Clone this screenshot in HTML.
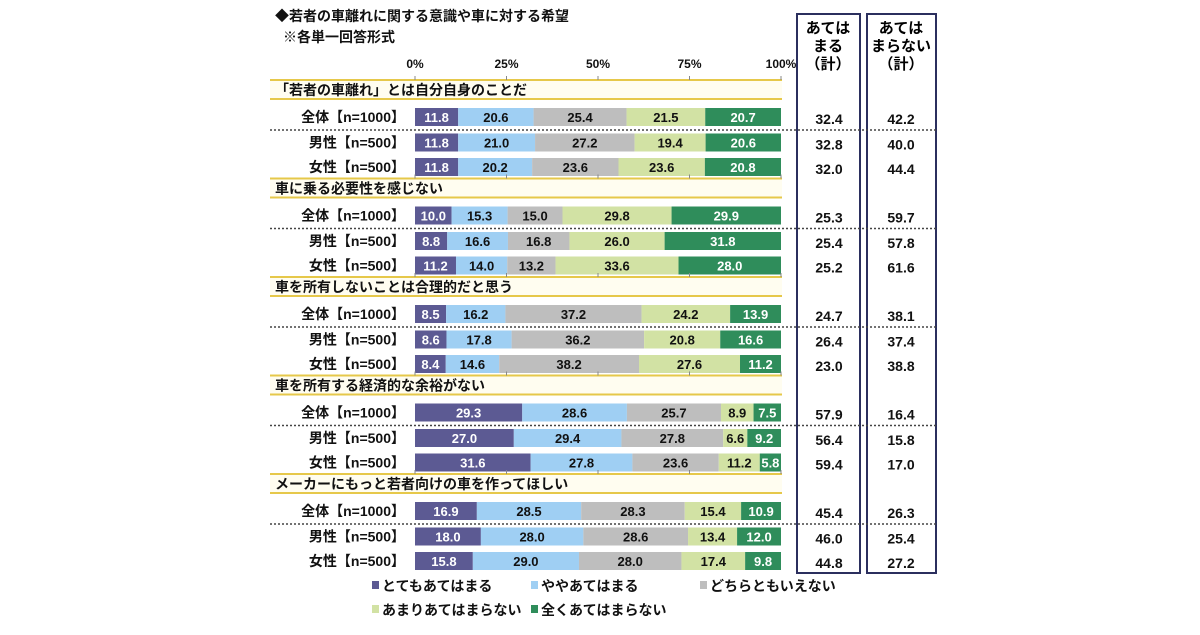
<!DOCTYPE html>
<html><head><meta charset="utf-8"><style>
body{margin:0;background:#fff;font-family:"Liberation Sans","Noto Sans CJK JP",sans-serif;}
svg text{font-family:"Liberation Sans","Noto Sans CJK JP",sans-serif;font-weight:bold;}
</style></head><body>
<svg id="c" width="1200" height="630">
<text x="275" y="21" font-size="14" fill="#111">◆若者の車離れに関する意識や車に対する希望</text>
<text x="283" y="42" font-size="14" fill="#111">※各単一回答形式</text>
<rect x="797" y="14" width="63" height="559" fill="none" stroke="#2b2f5e" stroke-width="2"/>
<rect x="867" y="14" width="69" height="559" fill="none" stroke="#2b2f5e" stroke-width="2"/>
<text x="828" y="33" font-size="15" text-anchor="middle"><tspan x="828">あては</tspan><tspan x="828" dy="18">まる</tspan><tspan x="828" dy="18">（計）</tspan></text>
<text x="901" y="33" font-size="15" text-anchor="middle"><tspan x="901">あては</tspan><tspan x="901" dy="18">まらない</tspan><tspan x="901" dy="18">（計）</tspan></text>
</svg>
<script>
const questions=["「若者の車離れ」とは自分自身のことだ","車に乗る必要性を感じない","車を所有しないことは合理的だと思う","車を所有する経済的な余裕がない","メーカーにもっと若者向けの車を作ってほしい"];
const rowLabels=["全体【n=1000】","男性【n=500】","女性【n=500】"];
const seriesNames=["とてもあてはまる","ややあてはまる","どちらともいえない","あまりあてはまらない","全くあてはまらない"];
const v1=[[11.8,20.6,25.4,21.5,20.7],[11.8,21.0,27.2,19.4,20.6],[11.8,20.2,23.6,23.6,20.8]];
const v2=[[10.0,15.3,15.0,29.8,29.9],[8.8,16.6,16.8,26.0,31.8],[11.2,14.0,13.2,33.6,28.0]];
const v3=[[8.5,16.2,37.2,24.2,13.9],[8.6,17.8,36.2,20.8,16.6],[8.4,14.6,38.2,27.6,11.2]];
const v4=[[29.3,28.6,25.7,8.9,7.5],[27.0,29.4,27.8,6.6,9.2],[31.6,27.8,23.6,11.2,5.8]];
const v5=[[16.9,28.5,28.3,15.4,10.9],[18.0,28.0,28.6,13.4,12.0],[15.8,29.0,28.0,17.4,9.8]];
const agreeTotals=[[32.4,32.8,32.0],[25.3,25.4,25.2],[24.7,26.4,23.0],[57.9,56.4,59.4],[45.4,46.0,44.8]];
const disagreeTotals=[[42.2,40.0,44.4],[59.7,57.8,61.6],[38.1,37.4,38.8],[16.4,15.8,17.0],[26.3,25.4,27.2]];
const ticks=[0,25,50,75,100];
const values=[v1,v2,v3,v4,v5];
const colors=["#5c5a93","#9fcff3","#bebebe","#d2e2a4","#2f8d5b"];
const textColors=["#fff","#111","#111","#111","#fff"];
const svg=document.getElementById('c');const NS="http://www.w3.org/2000/svg";
function mk(t,a,txt){const e=document.createElementNS(NS,t);for(const k in a)e.setAttribute(k,a[k]);if(txt!==undefined)e.textContent=txt;svg.appendChild(e);return e;}
const x0=415,x1=781;const xs=p=>x0+(x1-x0)*p/100;
ticks.forEach(t=>{const e=mk('text',{x:xs(t),y:68,'font-size':12,'text-anchor':'middle',fill:'#111'},t+'%');

});
questions.forEach((q,g)=>{
 const hy=80+g*98.5;
 const band=mk('rect',{x:270,y:hy,width:512,height:19,fill:'#fffdf0'});
 
 
 mk('line',{x1:270,x2:782,y1:hy,y2:hy,stroke:'#e6c84a','stroke-width':2});
 mk('line',{x1:270,x2:782,y1:hy+19,y2:hy+19,stroke:'#e6c84a','stroke-width':2});
 ticks.forEach(t=>mk('line',{x1:xs(t),x2:xs(t),y1:hy-4,y2:hy,stroke:'#888'}));
 const qt=mk('text',{x:275,y:hy+15,'font-size':14,fill:'#111'},q);
 
 
 rowLabels.forEach((r,i)=>{
  const cy=hy+37+i*24.5+(i>0?1:0);
  const lt=mk('text',{x:405,y:cy+5,'font-size':14,'text-anchor':'end',fill:'#111'},r);
  
  
  let acc=0;
  values[g][i].forEach((v,s)=>{
   const b=mk('rect',{x:xs(acc),y:cy-9,width:xs(acc+v)-xs(acc),height:18,fill:colors[s]});
   
   
   const t=mk('text',{x:(xs(acc)+xs(acc+v))/2,y:cy+5,'font-size':13,'text-anchor':'middle',fill:textColors[s]},v.toFixed(1));
   
   
   acc+=v;});
  const a=mk('text',{x:829,y:cy+7,'font-size':14,'text-anchor':'middle',fill:'#111'},agreeTotals[g][i].toFixed(1));
  
  
  const d=mk('text',{x:901,y:cy+7,'font-size':14,'text-anchor':'middle',fill:'#111'},disagreeTotals[g][i].toFixed(1));
  
  
  if(i===0){const dl=mk('line',{x1:270,x2:936,y1:cy+13,y2:cy+13,stroke:'#444','stroke-dasharray':'2,2','stroke-width':1.5});
   
   }
 });
});
const lpos=[[372,591],[531,591],[700,591],[372,615],[531,615]];
seriesNames.forEach((n,s)=>{
 const [lx,ly]=lpos[s];
 const sq=mk('rect',{x:lx,y:ly-10,width:7,height:8,fill:colors[s]});
 
 
 const t=mk('text',{x:lx+10,y:ly,'font-size':14,fill:'#111'},n);
 
 
});
</script>
</body></html>
